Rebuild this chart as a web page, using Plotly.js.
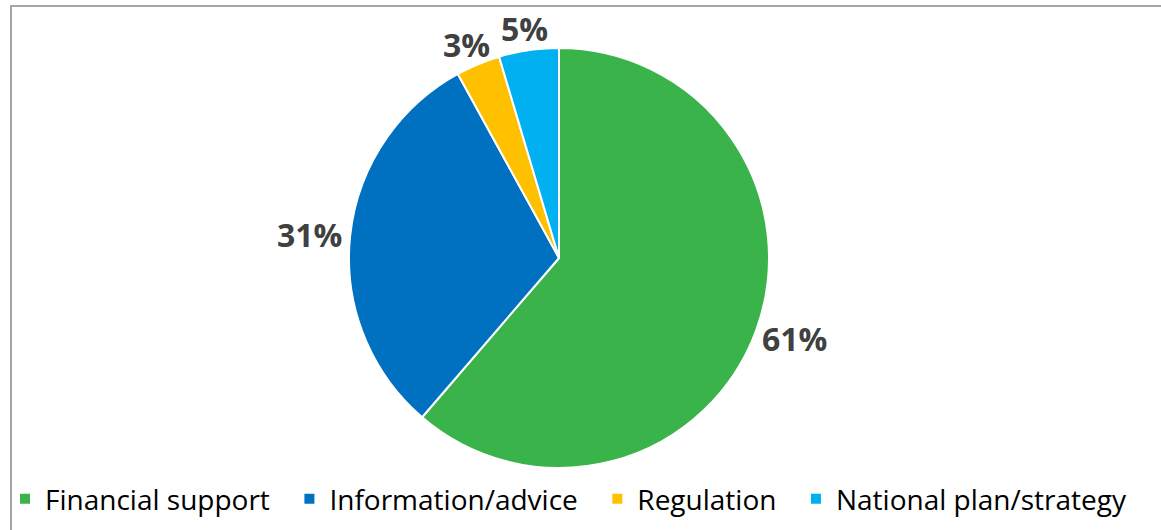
<!DOCTYPE html>
<html>
<head>
<meta charset="utf-8">
<script src="https://cdn.plot.ly/plotly-3.0.1.min.js"></script>
<style>
html,body{margin:0;padding:0;background:#fff;}
#chart{width:1161px;height:530px;}
</style>
</head>
<body>
<div id="chart"></div>
<script>
const categories = ["Financial support", "Information/advice", "Regulation", "National plan/strategy"];
const shares = [61.3, 30.7, 3.4, 4.6];
const colors = ["#3AB34A", "#0070C0", "#FFC000", "#00B0F0"];

const W = 1161, H = 530;
// pie geometry (pixels)
const CX = 559, CY = 258, R = 210;
const LABEL_SIZE = 32;

const trace = {
  type: "pie",
  labels: categories.map(c => c + "\u00a0\u00a0"),
  values: shares,
  sort: false,
  direction: "clockwise",
  rotation: 0,
  marker: {colors: colors, line: {color: "#ffffff", width: 2}},
  textinfo: "none",
  hoverinfo: "label+percent",
  domain: {x: [(CX - R) / W, (CX + R) / W], y: [(H - CY - R) / H, (H - CY + R) / H]},
  automargin: false
};

// percentage labels placed outside each slice at its mid angle (derived from the data)
const total = shares.reduce((a, b) => a + b, 0);
const annotations = [];
let cum = 0;
shares.forEach((v, i) => {
  const mid = (cum + v / 2) / total * 2 * Math.PI;
  cum += v;
  const s = Math.sin(mid), c = Math.cos(mid);
  const txt = Math.round(v / total * 100) + "%";
  const rr = R + 10;
  const hw = txt.length * LABEL_SIZE * 0.32;
  const hh = LABEL_SIZE * 0.37;
  const px = CX + rr * s + hw * s;
  const py = CY - rr * c - hh * c;
  annotations.push({
    xref: "paper", yref: "paper",
    x: px / W, y: (H - py) / H,
    text: txt,
    showarrow: false,
    xanchor: "center",
    yanchor: "middle",
    font: {family: "Open Sans, sans-serif", size: LABEL_SIZE, color: "#404040", weight: "bold"}
  });
});

const layout = {
  width: W, height: H,
  margin: {l: 0, r: 0, t: 0, b: 0},
  paper_bgcolor: "#ffffff",
  showlegend: true,
  legend: {
    orientation: "h",
    x: 5 / W, xanchor: "left",
    y: (H - 499) / H, yanchor: "middle",
    bgcolor: "rgba(0,0,0,0)",
    font: {family: "Open Sans, sans-serif", size: 28, color: "#000000"},
    itemclick: false
  },
  annotations: annotations,
  shapes: [
    {type: "line", xref: "paper", yref: "paper", x0: 11 / W, x1: 11 / W, y0: 0, y1: (H - 5) / H,
     line: {color: "#A6A6A6", width: 2}},
    {type: "line", xref: "paper", yref: "paper", x0: 10 / W, x1: 1, y0: (H - 6) / H, y1: (H - 6) / H,
     line: {color: "#A6A6A6", width: 2}}
  ]
};

Plotly.newPlot("chart", [trace], layout, {displayModeBar: false, staticPlot: true});
</script>
</body>
</html>
